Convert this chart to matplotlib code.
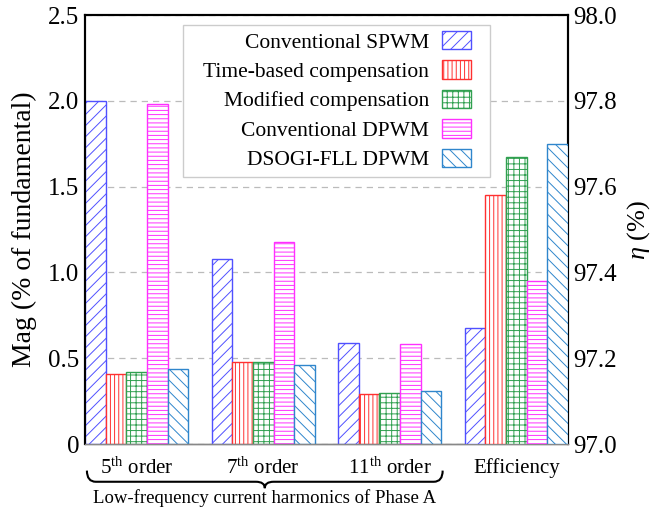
"""
Low-frequency current harmonics and efficiency of the PWM methods.
"""
import matplotlib.pyplot as plt
import numpy as np
from matplotlib.path import Path
from matplotlib.patches import PathPatch, Rectangle
from matplotlib.transforms import blended_transform_factory

plt.rcParams['font.family'] = ['Liberation Serif', 'DejaVu Serif']
plt.rcParams['mathtext.fontset'] = 'custom'
plt.rcParams['mathtext.rm'] = 'Liberation Serif'
plt.rcParams['mathtext.it'] = 'Liberation Serif:italic'
plt.rcParams['hatch.linewidth'] = 0.7

# data
methods = ['Conventional SPWM', 'Time-based compensation',
           'Modified compensation', 'Conventional DPWM', 'DSOGI-FLL DPWM']
groups = ['5$^{\\mathrm{th}}$ order', '7$^{\\mathrm{th}}$ order',
          '11$^{\\mathrm{th}}$ order', 'Efficiency']

# harmonic magnitude (% of fundamental) for 5th, 7th, 11th
mag_spwm = [2.00, 1.08, 0.59]
mag_time = [0.41, 0.48, 0.29]
mag_modified = [0.42, 0.48, 0.30]
mag_dpwm = [1.98, 1.18, 0.58]
mag_dsogi = [0.44, 0.46, 0.31]

# efficiency (%) per method
eff = [97.27, 97.58, 97.67, 97.38, 97.70]

mags = [mag_spwm, mag_time, mag_modified, mag_dpwm, mag_dsogi]
colors = ['#5050ff', '#ff3030', '#30a050', '#ff30ff', '#2f86cc']
hatches = ['///', '||||', '+++', '----', '\\\\\\']

w = 0.163
fig = plt.figure(figsize=(6.61, 5.12), dpi=100)
ax = fig.add_axes([0.1286, 0.1328, 0.7307, 0.8379])
ax2 = ax.twinx()

x_h = np.arange(3)
handles = []
for i in range(5):
    off = (i - 2) * w
    b = ax.bar(x_h + off, mags[i], w, facecolor='white',
               edgecolor=colors[i], hatch=hatches[i], lw=1.0,
               label=methods[i], zorder=3)
    ax2.bar(3 + off, eff[i] - 97.0, w, bottom=97.0, facecolor='white',
            edgecolor=colors[i], hatch=hatches[i], lw=1.0, zorder=3)
    handles.append(b)

ax.set_xlim(-2.5 * w, 3 + 2.5 * w)
ax.set_ylim(0, 2.5)
ax2.set_ylim(97.0, 98.0)

ax.set_yticks([0, 0.5, 1.0, 1.5, 2.0, 2.5])
ax.set_yticklabels(['0', '0.5', '1.0', '1.5', '2.0', '2.5'])
ax2.set_yticks([97.0, 97.2, 97.4, 97.6, 97.8, 98.0])
ax2.set_yticklabels(['97.0', '97.2', '97.4', '97.6', '97.8', '98.0'])
ax.set_xticks(np.arange(4))
ax.set_xticklabels(groups)

ax.tick_params(axis='y', length=0, pad=4, labelsize=18)
ax2.tick_params(axis='y', length=0, pad=4, labelsize=18)
ax.tick_params(axis='x', length=0, pad=10, labelsize=15)

ax.yaxis.grid(True, ls=(0, (5, 4)), color='#bbbbbb', lw=0.9, zorder=0)
ax.set_axisbelow(True)

for a in (ax, ax2):
    for s in ('left', 'right', 'top'):
        a.spines[s].set_linewidth(1.5)
        a.spines[s].set_color('black')
    a.spines['bottom'].set_color('#888888')
    a.spines['bottom'].set_linewidth(1.0)

ax.set_ylabel('Mag (% of fundamental)', fontsize=20, labelpad=8)
ax2.set_ylabel('$\\eta$ (%)', fontsize=19, labelpad=6)

# legend frame (wider padding left/right than the legend box itself)
ax2.add_patch(Rectangle((0.203, 0.622), 0.635, 0.355,
                        transform=ax2.transAxes, facecolor='white',
                        edgecolor='#cccccc', lw=1.0, zorder=4))
leg = ax2.legend(handles, methods, loc='upper right',
                 bbox_to_anchor=(0.799, 0.963), borderaxespad=0,
                 markerfirst=False, fontsize=15.5, frameon=False,
                 handlelength=1.35, handleheight=0.95, handletextpad=0.6,
                 labelspacing=0.36, borderpad=0)
leg.set_zorder(5)

# brace under the harmonic groups
tr = blended_transform_factory(ax.transData, ax.transAxes)
x0 = -2.5 * w + 0.015
x1 = 2 + 2.5 * w + 0.01
xc = (x0 + x1) / 2
r = 0.07
top, bot, tip = -0.062, -0.088, -0.103
verts = [(x0, top), (x0, bot), (x0 + r, bot),
         (xc - r, bot), (xc, bot), (xc, tip),
         (xc, bot), (xc + r, bot),
         (x1 - r, bot), (x1, bot), (x1, top)]
codes = [Path.MOVETO, Path.CURVE3, Path.CURVE3,
         Path.LINETO, Path.CURVE3, Path.CURVE3,
         Path.CURVE3, Path.CURVE3,
         Path.LINETO, Path.CURVE3, Path.CURVE3]
ax.add_patch(PathPatch(Path(verts, codes), transform=tr, fill=False,
                       lw=1.5, color='black', clip_on=False))
ax.text(xc, -0.125, 'Low-frequency current harmonics of Phase A',
        transform=tr, ha='center', va='center', fontsize=13.5)

fig.savefig('out.png', dpi=100)
